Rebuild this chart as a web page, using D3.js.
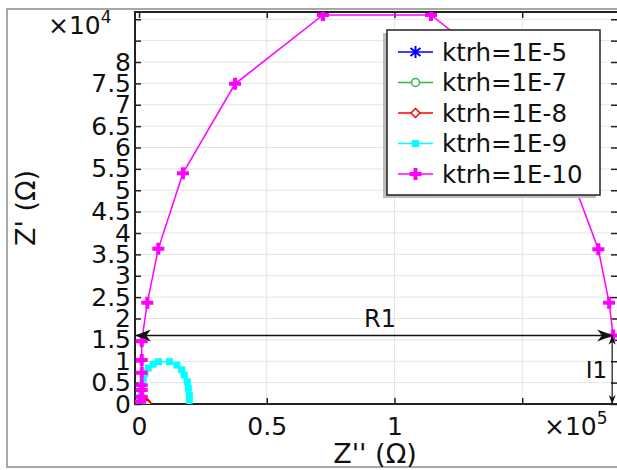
<!DOCTYPE html>
<html>
<head>
<meta charset="utf-8">
<script src="https://cdn.jsdelivr.net/npm/d3@7"></script>
<style>
  body { margin: 0; background: #fff; }
  text { font-family: "DejaVu Sans", sans-serif; fill: #111; }
</style>
</head>
<body>
<div id="chart"></div>
<script>
// series names, in legend order
const seriesNames = ['ktrh=1E-5', 'ktrh=1E-7', 'ktrh=1E-8', 'ktrh=1E-9', 'ktrh=1E-10'];

// Z'' values (ohm)
const zReal5 = [0, 0.3, 1.2, 2.4, 3];
const zReal7 = [10, 50, 130, 220, 290];
const zReal8 = [100, 300, 700, 1200, 1800, 2400, 2800, 3000];
const zReal9 = [400, 600, 800, 1200, 1700, 2300, 3600, 5500, 7600, 11900, 14800, 16700, 17700, 18900, 19300, 19700, 19700];
const zReal10 = [400, 1060, 1060, 1060, 1060, 1060, 1060, 3250, 7550, 17200, 37600, 72000, 114300, 148300, 168700, 179800, 184000, 185600];

// Z' values (ohm)
const zImag5 = [0, 0.8, 1.2, 0.8, 0.1];
const zImag7 = [5, 60, 110, 80, 20];
const zImag8 = [50, 400, 800, 1050, 1000, 700, 350, 80];
const zImag9 = [500, 1400, 2800, 4400, 6000, 7200, 8400, 9300, 9900, 9900, 9100, 8000, 6800, 5200, 3700, 2100, 540];
const zImag10 = [500, 1700, 3300, 4400, 7300, 10300, 14700, 23700, 36300, 54000, 74900, 91000, 91000, 74900, 54000, 36200, 23700, 16000];

// ticks
const xTicks = [0, 50000, 100000, 150000];
const yTicks = [0, 5000, 10000, 15000, 20000, 25000, 30000, 35000, 40000, 45000, 50000, 55000, 60000, 65000, 70000, 75000, 80000, 85000, 90000];
const xLabelMax = 100000;
const yLabelMax = 80000;

// annotations
const r1Value = 185600;
const i1Value = 16000;

const seriesX = [zReal5, zReal7, zReal8, zReal9, zReal10];
const seriesY = [zImag5, zImag7, zImag8, zImag9, zImag10];
const colors = ['#0000ff', '#2fb83a', '#ff0000', '#00ffff', '#ff00ff'];

const svg = d3.select('#chart')
              .append('svg')
              .attr('width', 617)
              .attr('height', 470);

// outer frame
svg.append('rect')
   .attr('x', 7).attr('y', 9)
   .attr('width', 640).attr('height', 458)
   .attr('fill', 'none')
   .attr('stroke', '#8a8a8a')
   .attr('stroke-width', 1.5);

const pLeft = 135, pRight = 617, pTop = 12, pBottom = 404;

const x = d3.scaleLinear().domain([-1570, 187100]).range([pLeft, pRight]);
const y = d3.scaleLinear().domain([0, 91700]).range([pBottom, pTop]);

svg.append('defs').append('clipPath').attr('id', 'clip')
   .append('rect')
   .attr('x', pLeft).attr('y', pTop)
   .attr('width', pRight - pLeft).attr('height', pBottom - pTop);

// grid
svg.append('g')
   .selectAll('line')
   .data(yTicks.slice(1))
   .join('line')
   .attr('x1', pLeft).attr('x2', pRight)
   .attr('y1', d => y(d)).attr('y2', d => y(d))
   .attr('stroke', '#e4e4e4');

svg.append('g')
   .selectAll('line')
   .data(xTicks.slice(1))
   .join('line')
   .attr('x1', d => x(d)).attr('x2', d => x(d))
   .attr('y1', pTop).attr('y2', pBottom)
   .attr('stroke', '#e4e4e4');

const fmt = v => String(+v.toFixed(1));

// axes, ticks inward
svg.append('g')
   .attr('transform', 'translate(' + pLeft + ',0)')
   .call(d3.axisLeft(y).tickValues(yTicks).tickSize(-6).tickSizeOuter(0).tickPadding(4)
         .tickFormat(d => d <= yLabelMax ? fmt(d / 1e4) : ''))
   .call(g => g.select('.domain').remove())
   .call(g => g.selectAll('line').attr('stroke', '#222').attr('stroke-width', 1.5))
   .call(g => g.selectAll('text').attr('font-size', 25).attr('fill', '#111')
               .attr('font-family', '"DejaVu Sans", sans-serif'));

svg.append('g')
   .attr('transform', 'translate(' + pRight + ',0)')
   .call(d3.axisRight(y).tickValues(yTicks).tickSize(-6).tickSizeOuter(0).tickFormat(''))
   .call(g => g.select('.domain').remove())
   .call(g => g.selectAll('line').attr('stroke', '#222').attr('stroke-width', 1.5));

svg.append('g')
   .attr('transform', 'translate(0,' + pBottom + ')')
   .call(d3.axisBottom(x).tickValues(xTicks).tickSize(-6).tickSizeOuter(0).tickPadding(13)
         .tickFormat(d => d <= xLabelMax ? fmt(d / 1e5) : ''))
   .call(g => g.select('.domain').remove())
   .call(g => g.selectAll('line').attr('stroke', '#222').attr('stroke-width', 1.5))
   .call(g => g.selectAll('text').attr('font-size', 25).attr('fill', '#111')
               .attr('font-family', '"DejaVu Sans", sans-serif'));

svg.append('g')
   .attr('transform', 'translate(0,' + pTop + ')')
   .call(d3.axisTop(x).tickValues(xTicks).tickSize(-6).tickSizeOuter(0).tickFormat(''))
   .call(g => g.select('.domain').remove())
   .call(g => g.selectAll('line').attr('stroke', '#222').attr('stroke-width', 1.5));

// plot frame
svg.append('rect')
   .attr('x', pLeft).attr('y', pTop)
   .attr('width', pRight - pLeft + 4).attr('height', pBottom - pTop)
   .attr('fill', 'none')
   .attr('stroke', '#222')
   .attr('stroke-width', 2);

// markers
function drawMarker(g, i, cx, cy) {
  const c = colors[i];
  if (i === 0) {
    g.append('path')
     .attr('d', `M${cx},${cy - 6}V${cy + 6}M${cx - 5},${cy - 4}L${cx + 5},${cy + 4}M${cx - 5},${cy + 4}L${cx + 5},${cy - 4}`)
     .attr('stroke', c).attr('stroke-width', 2).attr('fill', 'none');
  } else if (i === 1) {
    g.append('circle').attr('cx', cx).attr('cy', cy).attr('r', 4)
     .attr('fill', '#fff').attr('stroke', c).attr('stroke-width', 1.5);
  } else if (i === 2) {
    g.append('path')
     .attr('d', `M${cx},${cy - 4.5}L${cx + 4.5},${cy}L${cx},${cy + 4.5}L${cx - 4.5},${cy}Z`)
     .attr('fill', '#fff').attr('stroke', c).attr('stroke-width', 1.5);
  } else if (i === 3) {
    g.append('rect').attr('x', cx - 3.5).attr('y', cy - 3.5)
     .attr('width', 7).attr('height', 7).attr('fill', c);
  } else {
    g.append('path')
     .attr('d', `M${cx - 6},${cy}H${cx + 6}M${cx},${cy - 6}V${cy + 6}`)
     .attr('stroke', c).attr('stroke-width', 4).attr('fill', 'none');
  }
}

const line = d3.line().x(d => x(d[0])).y(d => y(d[1]));
const plot = svg.append('g').attr('clip-path', 'url(#clip)');

seriesNames.forEach((name, i) => {
  const pts = seriesX[i].map((v, k) => [v, seriesY[i][k]]);
  const g = plot.append('g');
  g.append('path')
   .datum(pts)
   .attr('fill', 'none')
   .attr('stroke', colors[i])
   .attr('stroke-width', 1.5)
   .attr('d', line);
  pts.forEach(p => drawMarker(g, i, x(p[0]), y(p[1])));
});

// annotations R1 and I1
function arrowHead(tipX, tipY, dir, len, half) {
  // dir: unit vector pointing toward tip
  const bx = tipX - dir[0] * len, by = tipY - dir[1] * len;
  const nx = -dir[1], ny = dir[0];
  const mx = tipX - dir[0] * len * 0.7, my = tipY - dir[1] * len * 0.7;
  return `M${tipX},${tipY}L${bx + nx * half},${by + ny * half}L${mx},${my}L${bx - nx * half},${by - ny * half}Z`;
}

const ann = svg.append('g');
const ry = y(i1Value);
ann.append('line')
   .attr('x1', pLeft).attr('x2', x(r1Value))
   .attr('y1', ry).attr('y2', ry)
   .attr('stroke', '#111').attr('stroke-width', 1.5);
ann.append('path').attr('d', arrowHead(pLeft, ry, [-1, 0], 16, 6)).attr('fill', '#111');
ann.append('path').attr('d', arrowHead(x(r1Value), ry, [1, 0], 16, 6)).attr('fill', '#111');
ann.append('text')
   .attr('x', (pLeft + x(r1Value)) / 2 + 6)
   .attr('y', ry - 9)
   .attr('text-anchor', 'middle')
   .attr('font-size', 24)
   .text('R1');

const ix = x(r1Value) - 1;
ann.append('line')
   .attr('x1', ix).attr('x2', ix)
   .attr('y1', ry).attr('y2', y(0))
   .attr('stroke', '#111').attr('stroke-width', 1.2);
ann.append('path').attr('d', arrowHead(ix, ry, [0, -1], 9, 3.5)).attr('fill', '#111');
ann.append('path').attr('d', arrowHead(ix, y(0), [0, 1], 9, 3.5)).attr('fill', '#111');
ann.append('text')
   .attr('x', ix - 5)
   .attr('y', (ry + y(0)) / 2 + 8)
   .attr('text-anchor', 'end')
   .attr('font-size', 23)
   .text('I1');

// exponent labels
const e4 = svg.append('text').attr('x', 48).attr('y', 34).attr('font-size', 25);
e4.append('tspan').text('×10');
e4.append('tspan').attr('dy', -11).attr('font-size', 17).text('4');

const e5 = svg.append('text').attr('x', 544).attr('y', 435).attr('font-size', 25);
e5.append('tspan').text('×10');
e5.append('tspan').attr('dy', -11).attr('font-size', 17).text('5');

// axis titles
svg.append('text')
   .attr('x', 375).attr('y', 463)
   .attr('text-anchor', 'middle')
   .attr('font-size', 27)
   .text("Z'' (Ω)");

svg.append('text')
   .attr('transform', 'translate(35,208) rotate(-90)')
   .attr('text-anchor', 'middle')
   .attr('font-size', 27)
   .text("Z' (Ω)");

// legend
const lg = svg.append('g');
lg.append('rect')
  .attr('x', 383).attr('y', 33)
  .attr('width', 213).attr('height', 165)
  .attr('fill', '#bdbdbd');
lg.append('rect')
  .attr('x', 387).attr('y', 30)
  .attr('width', 213).attr('height', 165)
  .attr('fill', '#fff')
  .attr('stroke', '#222')
  .attr('stroke-width', 1.5);

seriesNames.forEach((name, i) => {
  const cy = 52 + i * 30.5;
  lg.append('line')
    .attr('x1', 398).attr('x2', 433)
    .attr('y1', cy).attr('y2', cy)
    .attr('stroke', colors[i]).attr('stroke-width', 1.5);
  drawMarker(lg, i, 415.5, cy);
  lg.append('text')
    .attr('x', 442).attr('y', cy)
    .attr('dy', '0.36em')
    .attr('font-size', 24.5)
    .text(name);
});
</script>
</body>
</html>
